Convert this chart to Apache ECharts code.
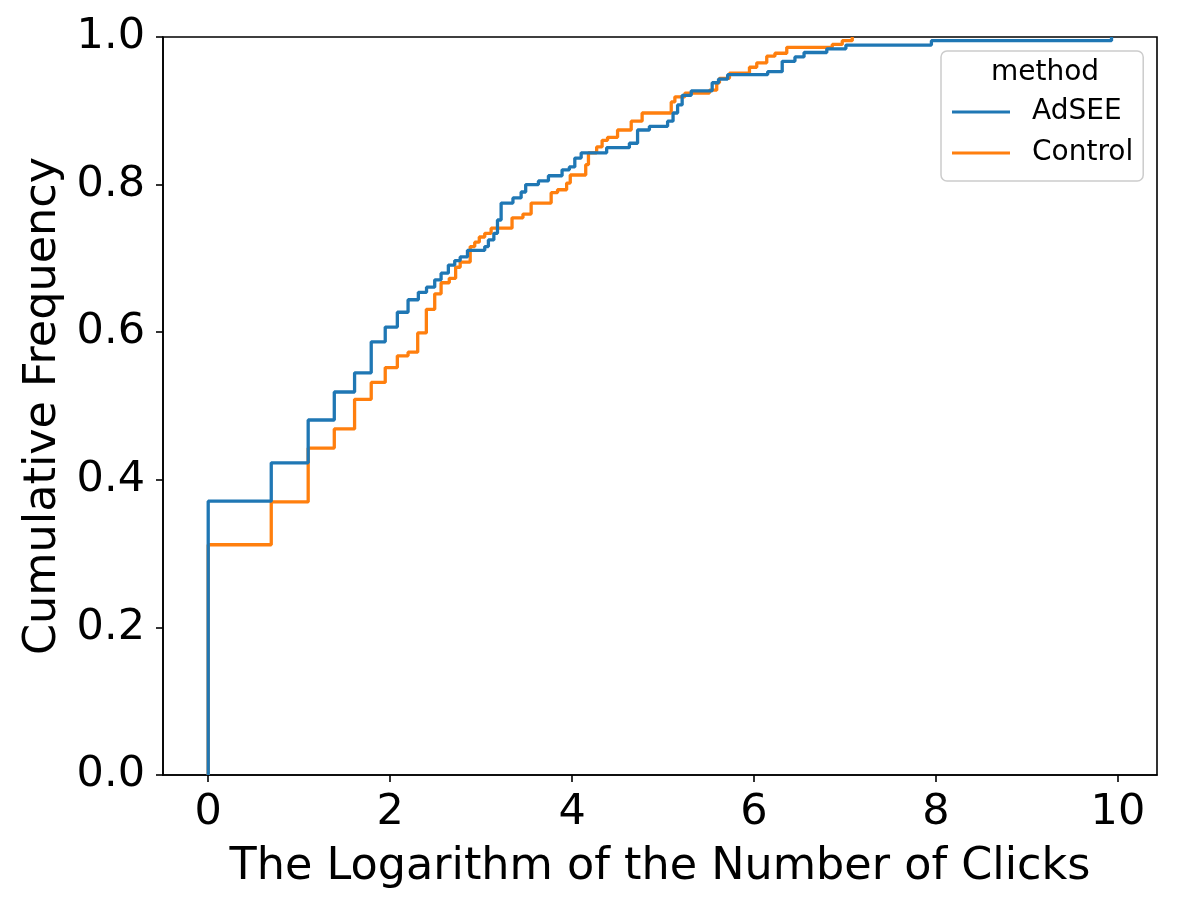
<!DOCTYPE html>
<html>
<head>
<meta charset="utf-8">
<script src="https://cdn.jsdelivr.net/npm/echarts@6/dist/echarts.min.js"></script>
<style>
  html, body { margin: 0; background: #fff; }
  #chart { width: 1177px; height: 913px; }
</style>
</head>
<body>
<div id="chart"></div>
<script>
// ECDF step points (x = log clicks, y = cumulative frequency)
const adseeX = [0, 0, 0.693, 1.099, 1.386, 1.609, 1.792, 1.946, 2.079, 2.197, 2.31, 2.40, 2.49, 2.56,
    2.64, 2.71, 2.77, 2.85, 3.04, 3.08, 3.14, 3.18, 3.22, 3.35, 3.44, 3.49, 3.63, 3.74, 3.89, 3.97,
    4.03, 4.10, 4.38, 4.63, 4.72, 4.85, 5.05, 5.11, 5.16, 5.21, 5.31, 5.54, 5.61, 5.71, 6.15, 6.31,
    6.45, 6.55, 6.80, 7.01, 7.95, 9.93];
const adseeY = [0, 0.371, 0.423, 0.481, 0.519, 0.545, 0.587, 0.607, 0.627, 0.644, 0.654, 0.661, 0.671, 0.680,
    0.691, 0.697, 0.702, 0.711, 0.716, 0.725, 0.734, 0.752, 0.775, 0.782, 0.790, 0.800, 0.805, 0.812, 0.820, 0.824,
    0.836, 0.843, 0.850, 0.856, 0.874, 0.879, 0.886, 0.897, 0.908, 0.921, 0.927, 0.938, 0.943, 0.949, 0.953, 0.967,
    0.973, 0.979, 0.984, 0.989, 0.995, 1.0];

const controlX = [0, 0, 0.693, 1.099, 1.386, 1.609, 1.792, 1.946, 2.079, 2.197, 2.303, 2.398, 2.49, 2.56,
    2.65, 2.72, 2.77, 2.88, 2.93, 2.98, 3.04, 3.11, 3.34, 3.46, 3.55, 3.77, 3.84, 3.94, 3.98, 4.15,
    4.18, 4.27, 4.33, 4.39, 4.50, 4.65, 4.77, 5.09, 5.13, 5.24, 5.51, 5.59, 5.62, 5.73, 5.95, 6.03,
    6.14, 6.23, 6.36, 6.86, 6.97, 7.08];
const controlY = [0, 0.312, 0.370, 0.443, 0.469, 0.509, 0.532, 0.552, 0.568, 0.573, 0.599, 0.631, 0.652, 0.667,
    0.673, 0.688, 0.695, 0.716, 0.722, 0.729, 0.734, 0.741, 0.755, 0.760, 0.775, 0.789, 0.793, 0.802, 0.813, 0.827,
    0.843, 0.851, 0.860, 0.864, 0.874, 0.886, 0.897, 0.912, 0.919, 0.924, 0.928, 0.938, 0.944, 0.951, 0.959, 0.965,
    0.974, 0.978, 0.986, 0.990, 0.995, 1.0];

const seriesNames = ['AdSEE', 'Control'];
const xTicks = [0, 2, 4, 6, 8, 10];
const yTicks = [0, 0.2, 0.4, 0.6, 0.8, 1.0];

const zip = (xs, ys) => xs.map((x, i) => [x, ys[i]]);

const font = 'DejaVu Sans';

const chart = echarts.init(document.getElementById('chart'));

const option = {
    animation: false,
    textStyle: { fontFamily: font },
    grid: {
        left: 163,
        right: 20,
        top: 37,
        bottom: 138,
        show: true,
        borderColor: '#000',
        borderWidth: 1.6
    },
    title: {
        text: 'method',
        left: 991,
        top: 59,
        padding: 0,
        z: 10,
        textStyle: { fontFamily: font, fontSize: 28, fontWeight: 'normal', color: '#000' }
    },
    legend: {
        data: seriesNames,
        orient: 'vertical',
        left: 941,
        top: 51,
        padding: [46, 10, 13, 11],
        itemWidth: 58,
        itemHeight: 3,
        itemGap: 11,
        icon: 'rect',
        backgroundColor: 'rgba(255,255,255,0.8)',
        borderColor: '#cccccc',
        borderWidth: 1.5,
        borderRadius: 6,
        textStyle: {
            fontFamily: font,
            fontSize: 28,
            lineHeight: 30,
            color: '#000',
            padding: [0, 0, 0, 17]
        }
    },
    xAxis: {
        type: 'value',
        min: -0.497,
        max: 10.43,
        name: 'The Logarithm of the Number of Clicks',
        nameLocation: 'middle',
        nameGap: 70,
        nameTextStyle: { fontFamily: font, fontSize: 44.5, color: '#000' },
        axisLine: { show: true, onZero: false, lineStyle: { color: '#000', width: 1.6 } },
        axisTick: {
            show: true,
            length: 7,
            customValues: xTicks,
            lineStyle: { color: '#000', width: 1.6 }
        },
        axisLabel: {
            margin: 16,
            fontSize: 43,
            color: '#000',
            fontFamily: font,
            customValues: xTicks,
            showMinLabel: true,
            showMaxLabel: true
        },
        splitLine: { show: false }
    },
    yAxis: {
        type: 'value',
        min: 0,
        max: 1,
        interval: 0.2,
        name: 'Cumulative Frequency',
        nameLocation: 'middle',
        nameGap: 97,
        nameTextStyle: { fontFamily: font, fontSize: 44.5, color: '#000' },
        axisLine: { show: true, onZero: false, lineStyle: { color: '#000', width: 1.6 } },
        axisTick: {
            show: true,
            length: 7,
            customValues: yTicks,
            lineStyle: { color: '#000', width: 1.6 }
        },
        axisLabel: {
            margin: 18,
            fontSize: 43,
            color: '#000',
            fontFamily: font,
            customValues: yTicks,
            formatter: (v) => v.toFixed(1)
        },
        splitLine: { show: false }
    },
    series: [
        {
            name: 'Control',
            type: 'line',
            step: 'end',
            showSymbol: false,
            symbol: 'none',
            color: '#ff7f0e',
            lineStyle: { width: 3.3, color: '#ff7f0e' },
            data: zip(controlX, controlY),
            z: 2
        },
        {
            name: 'AdSEE',
            type: 'line',
            step: 'end',
            showSymbol: false,
            symbol: 'none',
            color: '#1f77b4',
            lineStyle: { width: 3.3, color: '#1f77b4' },
            data: zip(adseeX, adseeY),
            z: 3
        }
    ]
};

chart.setOption(option);
</script>
</body>
</html>
